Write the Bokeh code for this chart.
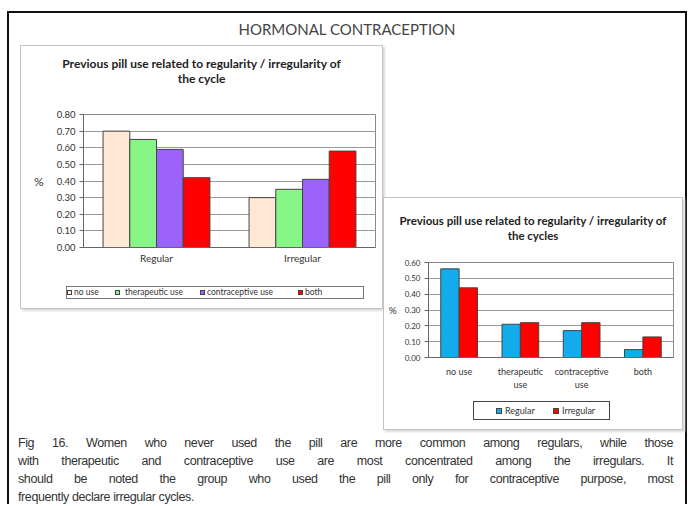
from bokeh.plotting import figure
from bokeh.models import (FactorRange, Range1d, FixedTicker, NumeralTickFormatter,
                          Div, ColumnDataSource)
from bokeh.layouts import column, row
from bokeh.transform import dodge
from bokeh.embed import file_html
from bokeh.resources import INLINE

# ---------------- data ----------------
heading = "HORMONAL CONTRACEPTION"

left_title = ["Previous pill use related to regularity / irregularity of", "the cycle"]
left_categories = ["Regular", "Irregular"]
left_series = ["no use", "therapeutic use", "contraceptive use", "both"]
no_use = [0.70, 0.30]
therapeutic_use = [0.65, 0.35]
contraceptive_use = [0.59, 0.41]
both = [0.42, 0.58]
left_ticks = [0.0, 0.1, 0.2, 0.3, 0.4, 0.5, 0.6, 0.7, 0.8]

right_title = ["Previous pill use related to regularity / irregularity of", "the cycles"]
right_categories = ["no use", "therapeutic\nuse", "contraceptive\nuse", "both"]
right_series = ["Regular", "Irregular"]
regular = [0.56, 0.21, 0.17, 0.05]
irregular = [0.44, 0.22, 0.22, 0.13]
right_ticks = [0.0, 0.1, 0.2, 0.3, 0.4, 0.5, 0.6]

caption_lines = [
    "Fig 16. Women who never used the pill are more common among regulars, while those",
    "with therapeutic and contraceptive use are most concentrated among the irregulars. It",
    "should be noted the group who used the pill only for contraceptive purpose, most",
    "frequently declare irregular cycles.",
]

# ---------------- style ----------------
FONT = "Lato"
left_colors = ["#FFE9D4", "#86F786", "#9B63FA", "#FF0000"]
right_colors = ["#12ABEB", "#FF0000"]
chart_box = {"border": "1px solid #c4c4c4", "box-shadow": "2px 2px 2px #dadada",
             "background-color": "white"}


def style_common(p, ytick_size, xlab_size, xlab_standoff, pct_size, pct_standoff):
    p.yaxis.formatter = NumeralTickFormatter(format="0.00")
    p.yaxis.major_tick_out = 4
    p.yaxis.major_tick_in = 0
    p.yaxis.minor_tick_out = 0
    p.yaxis.minor_tick_in = 0
    p.yaxis.major_label_standoff = 4
    p.yaxis.major_label_text_font = FONT
    p.yaxis.major_label_text_font_size = ytick_size
    p.yaxis.major_label_text_color = "#333333"
    p.yaxis.axis_line_color = "#666666"
    p.yaxis.major_tick_line_color = "#666666"
    p.yaxis.axis_label = "%"
    p.yaxis.axis_label_orientation = "horizontal"
    p.yaxis.axis_label_text_font = FONT
    p.yaxis.axis_label_text_font_style = "normal"
    p.yaxis.axis_label_text_font_size = pct_size
    p.yaxis.axis_label_text_color = "#333333"
    p.yaxis.axis_label_standoff = pct_standoff
    p.xaxis.major_tick_out = 0
    p.xaxis.major_tick_in = 0
    p.xaxis.axis_line_color = "#666666"
    p.xaxis.major_label_standoff = xlab_standoff
    p.xaxis.major_label_text_font = FONT
    p.xaxis.major_label_text_font_size = xlab_size
    p.xaxis.major_label_text_color = "#333333"
    p.xgrid.visible = False
    p.ygrid.grid_line_color = "#9a9a9a"
    p.ygrid.grid_line_width = 1
    p.outline_line_color = "#8a8a8a"
    p.background_fill_color = "white"
    p.border_fill_color = "white"


def title_div(lines, width, height, size, pad_top):
    html = ('<div style="box-sizing:border-box;width:%dpx;height:%dpx;padding-top:%.1fpx;'
            'text-align:center;font-family:Lato;font-weight:bold;font-size:%s;'
            'line-height:15px;color:#222222;">%s<br>%s</div>'
            % (width, height, pad_top, size, lines[0], lines[1]))
    return Div(text=html, width=width, height=height, margin=0)


def legend_div(labels, colors, width, height, box, marker_x, label_x, marker, font_size,
               border_color):
    # box = (left, top, width, height) of the legend frame inside the div
    bl, bt, bwid, bh = box
    inner = bh - 2
    html = '<div style="position:relative;width:%dpx;height:%dpx;">' % (width, height)
    html += ('<div style="position:absolute;left:%dpx;top:%dpx;width:%dpx;height:%dpx;'
             'box-sizing:border-box;border:1px solid %s;background:white;">'
             % (bl, bt, bwid, bh, border_color))
    for lab, col, mx, lx in zip(labels, colors, marker_x, label_x):
        html += ('<span style="position:absolute;left:%dpx;top:%.1fpx;width:%dpx;height:%dpx;'
                 'box-sizing:border-box;background:%s;border:1px solid #444444;"></span>'
                 % (mx, (inner - marker) / 2.0, marker, marker, col))
        html += ('<span style="position:absolute;left:%dpx;top:0px;line-height:%dpx;'
                 'white-space:nowrap;font-family:Lato;font-size:%s;color:#333333;">%s</span>'
                 % (lx, inner, font_size, lab))
    html += '</div></div>'
    return Div(text=html, width=width, height=height, margin=0)


# ---------------- left chart ----------------
p1 = figure(x_range=FactorRange(factors=left_categories, range_padding=0),
            y_range=Range1d(0, 0.8), width=361, height=180,
            output_backend="svg", toolbar_location=None,
            min_border_left=62, min_border_right=7, min_border_top=28, min_border_bottom=16,
            margin=0)
style_common(p1, "9.5px", "10px", 4, "12px", 10)
p1.yaxis.ticker = FixedTicker(ticks=left_ticks)

src1 = ColumnDataSource(dict(cat=left_categories, s0=no_use, s1=therapeutic_use,
                             s2=contraceptive_use, s3=both))
bw1 = 0.183
for i, (key, col) in enumerate(zip(["s0", "s1", "s2", "s3"], left_colors)):
    p1.vbar(x=dodge("cat", (i - 1.5) * bw1, range=p1.x_range), top=key, bottom=0,
            width=bw1, source=src1, fill_color=col, line_color="#444444", line_width=1)

leg1 = legend_div(left_series, left_colors, 361, 42, (45, 20, 298, 13),
                  [0, 48, 133, 231], [7, 58, 140, 238], 5, "8.5px", "#777777")

left_box = column(title_div(left_title, 361, 40, "12px", 9.5), p1, leg1,
                  margin=(0, 0, 0, 11), styles=chart_box)

# ---------------- right chart ----------------
p2 = figure(x_range=FactorRange(factors=right_categories, range_padding=0),
            y_range=Range1d(0, 0.6), width=298, height=146,
            output_backend="svg", toolbar_location=None,
            min_border_left=44, min_border_right=9, min_border_top=16, min_border_bottom=30,
            margin=0)
style_common(p2, "8px", "9px", 8, "10px", 5)
p2.yaxis.ticker = FixedTicker(ticks=right_ticks)

src2 = ColumnDataSource(dict(cat=right_categories, s0=regular, s1=irregular))
bw2 = 0.3
for i, (key, col) in enumerate(zip(["s0", "s1"], right_colors)):
    p2.vbar(x=dodge("cat", (i - 0.5) * bw2, range=p2.x_range), top=key, bottom=0,
            width=bw2, source=src2, fill_color=col, line_color="#444444", line_width=1)

leg2 = legend_div(right_series, right_colors, 298, 37, (89, 9, 137, 19),
                  [22, 79], [31, 88], 6, "9px", "#444444")

right_box = column(title_div(right_title, 298, 48, "11.5px", 14.5), p2, leg2,
                   margin=(152, 0, 0, 0), styles=chart_box)

# ---------------- heading and caption ----------------
head = Div(text=('<div style="width:676px;height:32px;line-height:32px;text-align:center;'
                 'font-family:Lato;font-size:15px;color:#444444;">' + heading + '</div>'),
           width=676, height=32, margin=0)

cap_html = ('<div style="box-sizing:border-box;width:676px;padding:4px 12px 0 9px;'
            'font-family:\'Liberation Sans\';font-size:12.5px;letter-spacing:-0.4px;'
            'line-height:18px;color:#333333;">')
for k, line in enumerate(caption_lines):
    last = k == len(caption_lines) - 1
    align = "text-align:left;" if last else "text-align:justify;text-align-last:justify;"
    cap_html += '<div style="' + align + '">' + line + '</div>'
cap_html += '</div>'
cap = Div(text=cap_html, width=676, height=74, margin=0)

layout = column(head, row(left_box, right_box), cap, margin=(11, 0, 0, 7),
                styles={"border": "2px solid #111111", "border-bottom": "none",
                        "background-color": "white"})

open("out.html", "w").write(file_html(layout, INLINE))
